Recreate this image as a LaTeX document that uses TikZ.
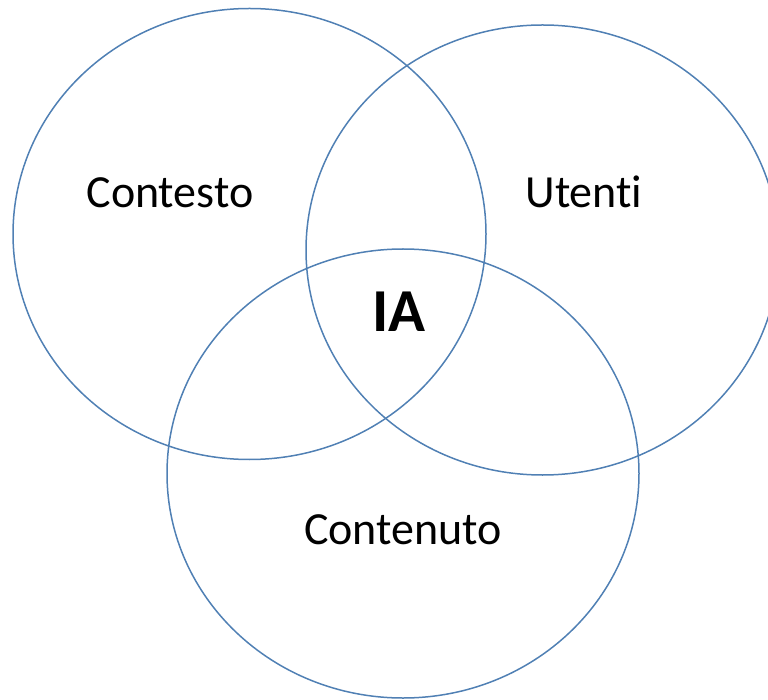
\documentclass[tikz,border=0pt]{standalone}
\usepackage{fontspec}
\setmainfont[Ligatures=NoCommon]{Carlito}
\begin{document}
\begin{tikzpicture}[x=1pt,y=-1pt,
  ring/.style={draw=ringblue,line width=1.5pt},
  lbl/.style={anchor=base,inner sep=0pt,font=\fontsize{46}{50}\selectfont},
  core/.style={anchor=base,inner sep=0pt,font=\fontsize{61}{66}\selectfont\bfseries}]
\definecolor{ringblue}{HTML}{5080B4}
\useasboundingbox (0,0) rectangle (768,700);
\clip (0,0) rectangle (768,700);
\draw[ring] (249.5,234) ellipse [x radius=236.5, y radius=225.5];
\draw[ring] (542.5,250) ellipse [x radius=236.5, y radius=225];
\draw[ring] (403,473.5) ellipse [x radius=236, y radius=224.5];
\node[lbl] (contesto) at (170,208) {Contesto};
\node[lbl] (utenti) at (584,208) {Utenti};
\node[lbl] (contenuto) at (403,544) {Contenuto};
\node[core] (ia) at (399,332) {IA};
\end{tikzpicture}
\end{document}
